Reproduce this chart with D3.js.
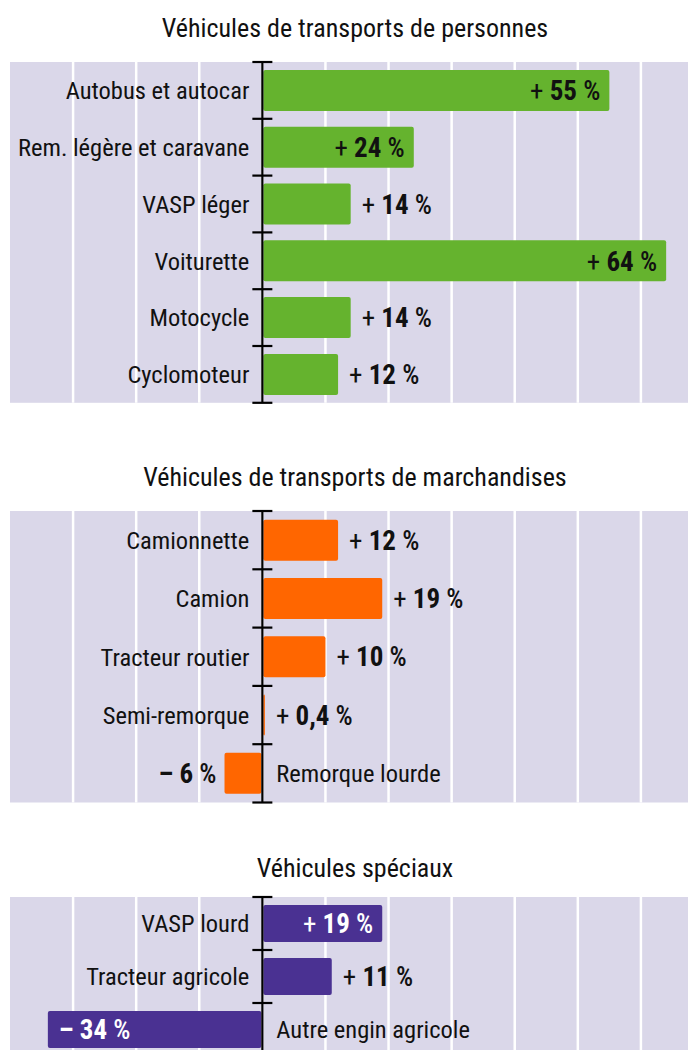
<!DOCTYPE html>
<html>
<head>
<meta charset="utf-8">
<script src="https://cdn.jsdelivr.net/npm/d3@7"></script>
<style>
  body { margin: 0; background: #fff; }
  svg text { font-family: "Roboto", sans-serif; font-stretch: condensed; }
</style>
</head>
<body>
<div id="chart"></div>
<script>
  // data
  var titles = ["Véhicules de transports de personnes",
                "Véhicules de transports de marchandises",
                "Véhicules spéciaux"];

  var persCats = ["Autobus et autocar", "Rem. légère et caravane", "VASP léger", "Voiturette", "Motocycle", "Cyclomoteur"];
  var persVals = [55, 24, 14, 64, 14, 12];
  var persInside = [true, true, false, true, false, false];

  var marchCats = ["Camionnette", "Camion", "Tracteur routier", "Semi-remorque", "Remorque lourde"];
  var marchVals = [12, 19, 10, 0.4, -6];
  var marchInside = [false, false, false, false, false];

  var specCats = ["VASP lourd", "Tracteur agricole", "Autre engin agricole"];
  var specVals = [19, 11, -34];
  var specInside = [true, false, true];

  var gridTicks = [-30, -20, -10, 0, 10, 20, 30, 40, 50, 60];

  var width = 688, height = 1050;

  var svg = d3.select("#chart")
    .append("svg")
      .attr("width", width)
      .attr("height", height);

  var x = d3.scaleLinear()
    .domain([-40, 70])
    .range([10, 704]);

  var panels = [
    {title: titles[0], cats: persCats, vals: persVals, inside: persInside,
     color: "#65b32e", insideText: "#111", titleY: 37, top: 62, band: 56.8, bar: 41},
    {title: titles[1], cats: marchCats, vals: marchVals, inside: marchInside,
     color: "#ff6600", insideText: "#111", titleY: 486, top: 511, band: 58.3, bar: 41},
    {title: titles[2], cats: specCats, vals: specVals, inside: specInside,
     color: "#4a3192", insideText: "#fff", titleY: 877, top: 897, band: 53, bar: 37}
  ];

  var fmt = function (v) {
    return String(Math.abs(v)).replace(".", ",");
  };

  panels.forEach(function (p) {
    var rows = p.cats.map(function (c, i) {
      return {cat: c, value: p.vals[i], inside: p.inside[i]};
    });
    var h = p.band * rows.length;

    var y = d3.scaleBand()
      .domain(p.cats)
      .range([p.top, p.top + h])
      .paddingInner((p.band - p.bar) / p.band)
      .paddingOuter((p.band - p.bar) / p.band / 2);

    var g = svg.append("g");

    // title
    g.append("text")
      .attr("x", 355)
      .attr("y", p.titleY)
      .attr("text-anchor", "middle")
      .style("font-size", "26px")
      .style("fill", "#111")
      .text(p.title);

    // background + grid
    g.append("rect")
      .attr("x", x(-40))
      .attr("y", p.top)
      .attr("width", width - x(-40))
      .attr("height", h)
      .style("fill", "#dad7e9");

    g.selectAll(".grid")
      .data(gridTicks)
      .enter()
      .append("line")
        .attr("x1", function (d) { return x(d); })
        .attr("x2", function (d) { return x(d); })
        .attr("y1", p.top)
        .attr("y2", p.top + h)
        .style("stroke", "#fff")
        .style("stroke-width", 2.5);

    // bars
    g.selectAll(".bar")
      .data(rows)
      .enter()
      .append("rect")
        .attr("x", function (d) { return d.value >= 0 ? x(0) + 1 : x(d.value); })
        .attr("y", function (d) { return y(d.cat); })
        .attr("width", function (d) { return Math.max(1.5, Math.abs(x(d.value) - x(0)) - 1); })
        .attr("height", y.bandwidth())
        .attr("rx", 2)
        .style("fill", p.color);

    // axis with ticks at band edges
    g.append("line")
      .attr("x1", x(0)).attr("x2", x(0))
      .attr("y1", p.top).attr("y2", p.top + h)
      .style("stroke", "#000")
      .style("stroke-width", 2.2);

    g.selectAll(".tick")
      .data(d3.range(rows.length + 1))
      .enter()
      .append("line")
        .attr("x1", x(0) - 10).attr("x2", x(0) + 10)
        .attr("y1", function (i) { return p.top + i * p.band; })
        .attr("y2", function (i) { return p.top + i * p.band; })
        .style("stroke", "#000")
        .style("stroke-width", 2.2);

    // category labels
    g.selectAll(".cat")
      .data(rows)
      .enter()
      .append("text")
        .attr("x", function (d) { return d.value >= 0 ? x(0) - 13 : x(0) + 14; })
        .attr("y", function (d) { return y(d.cat) + y.bandwidth() / 2; })
        .attr("dy", "0.36em")
        .attr("text-anchor", function (d) { return d.value >= 0 ? "end" : "start"; })
        .style("font-size", "24.5px")
        .style("fill", "#111")
        .text(function (d) { return d.cat; });

    // value labels
    var vl = g.selectAll(".val")
      .data(rows)
      .enter()
      .append("text")
        .attr("x", function (d) {
          if (d.value >= 0) return d.inside ? x(d.value) - 9 : x(d.value) + 11;
          return d.inside ? x(d.value) + 11 : x(d.value) - 8;
        })
        .attr("y", function (d) { return y(d.cat) + y.bandwidth() / 2; })
        .attr("dy", "0.36em")
        .attr("text-anchor", function (d) {
          return (d.value >= 0) === d.inside ? "end" : "start";
        })
        .style("font-size", "27px")
        .style("fill", function (d) { return d.inside ? p.insideText : "#111"; });

    vl.append("tspan")
      .text(function (d) { return d.value >= 0 ? "+ " : "– "; })
      .style("font-weight", function (d) { return d.value >= 0 ? "normal" : "bold"; });
    vl.append("tspan")
      .style("font-weight", "bold")
      .text(function (d) { return fmt(d.value); });
    vl.append("tspan")
      .style("font-weight", 500)
      .text(" %");
  });
</script>
</body>
</html>
